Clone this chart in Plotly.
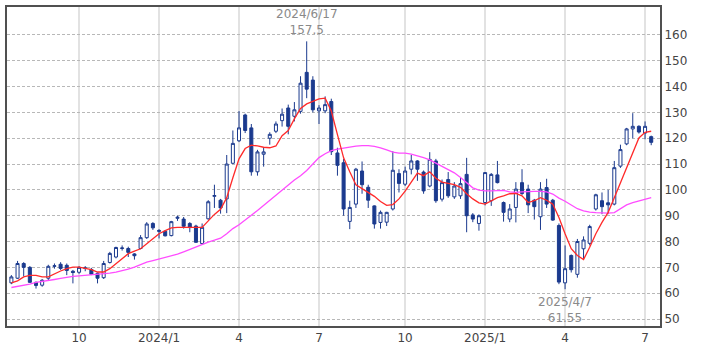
import pandas as pd
import plotly.graph_objects as go

# ---- data (weekly candles, Monday dates) ----
start_week = "2023-07-17"
n_weeks = 105
weeks = pd.date_range(start_week, periods=n_weeks, freq="W-MON")

opens = [64, 65.8, 71.5, 70, 64.2, 63.1, 65.8, 70.4, 71.2, 70.8,
         68.5, 68.1, 69.6, 69.2, 67.7, 66, 71.9, 74, 77.3, 77.3,
         75.2, 77.3, 81.5, 87, 84.3, 84, 82.3, 89, 88.7, 87,
         86, 79.2, 88.8, 97.5, 96, 96.5, 110.3, 119, 129, 124,
         107, 113.8, 120, 122.7, 126.8, 131.7, 128.5, 130.4, 145.5, 142.5,
         130.6, 130.6, 134.2, 114.3, 110.5, 87.8, 94.5, 107.3, 101, 93.8,
         87.4, 87.5, 92.6, 106.3, 102.2, 108, 111.2, 106.9, 101.5, 111.2,
         96.4, 104, 97.3, 97.7, 106, 90.3, 87, 95.1, 95.8, 105.8,
         95.1, 88.7, 93.2, 102.8, 100.3, 96, 89.6, 100.9, 96, 86.2,
         64, 74.6, 67.3, 77.2, 79.3, 92.6, 95.8, 95, 94.5, 109.2,
         117.8, 123.6, 124.6, 122, 120.6]
highs = [67, 72.5, 72, 70.5, 64.5, 65.5, 71, 71.5, 72, 71.5,
         69, 70.5, 70.5, 69.8, 68, 72.5, 76, 78, 78.5, 78,
         75.5, 82.5, 87.5, 87.5, 84.8, 84.3, 88, 90, 89.5, 87.5,
         86.5, 87, 96, 102, 96.5, 113.5, 123, 130.5, 129.5, 125.5,
         115.5, 116.3, 122.3, 126.5, 131.5, 133, 134, 144, 157.5, 144,
         132.8, 136.2, 135.3, 116.3, 112, 95.8, 108.5, 111, 102, 94,
         92, 91.5, 115, 108, 109, 113.5, 111.5, 107.5, 114.6, 112,
         104, 106.9, 103, 105, 112.4, 91, 90.5, 106.7, 106.5, 111.2,
         95.5, 94.5, 103, 108, 102, 96.5, 103, 104.3, 96.5, 87,
         78.5, 75, 81, 82, 86.5, 98.5, 99, 100, 111.2, 117.5,
         124, 129.7, 125, 126.5, 121]
lows = [63.5, 65.5, 66.5, 64, 61.8, 62.5, 65, 69.5, 69, 67,
        63.8, 67.5, 68.5, 67, 63.8, 65.5, 71.5, 73.5, 76.5, 74,
        73, 77, 81, 84.5, 81.2, 82, 82, 88, 85, 83.6,
        79.5, 79, 88.5, 93, 90.8, 91, 110, 118.5, 122, 105.5,
        105.5, 109, 117.5, 122, 124.5, 121.5, 126.5, 129.5, 135.5, 130,
        125.5, 129.7, 113.5, 105.5, 90, 84.8, 93, 98.5, 93, 85,
        85, 86, 92, 99, 101.5, 106, 103.5, 98.5, 101, 95,
        95.5, 96.9, 96.5, 96.5, 83.6, 87.5, 84.2, 94, 93.8, 102.5,
        87.7, 87.5, 87.4, 98, 91, 88.5, 84.5, 93, 88, 63.5,
        61.55, 68, 66, 73, 78.5, 92, 90.6, 90.6, 94, 108.5,
        117.3, 120, 121.8, 119.6, 117.3]
closes = [66.3, 71.5, 70, 64.2, 63, 65, 70.4, 70.6, 69.6, 68.8,
          68, 70, 69.8, 67.3, 65.8, 71.5, 75.4, 77.7, 77.5, 75.8,
          74.5, 81.5, 86.8, 85.3, 84, 82.2, 87.7, 89.4, 85.9, 85.4,
          79.7, 85.5, 95.4, 97.8, 93, 110, 118, 124, 123, 107,
          114.7, 114.7, 121.5, 125.5, 129.3, 124.6, 131, 141.3, 139, 131,
          131.7, 133, 114.8, 109.5, 92.6, 93.2, 108, 102, 96, 86.8,
          91.3, 91.3, 107.6, 102.5, 107.3, 111.2, 108, 99.6, 111.8, 95.8,
          102.8, 97.7, 101.5, 102.4, 90, 88.7, 90, 106.7, 106, 102.8,
          91.3, 92.6, 100.3, 98.6, 94.2, 93.5, 100.3, 94.5, 88.3, 64.3,
          69.5, 69.1, 80, 80.6, 85.8, 98.1, 93.5, 94.2, 108.6, 115.6,
          123.6, 124.6, 122.4, 124.6, 118.4]

ma13 = [64.0, 64.8, 66.3, 66.9, 66.9, 66.3, 66.3, 67.6, 68.6, 69.5,
        70.1, 70.1, 69.7, 69.1, 68.2, 68.2, 69.5, 71.4, 73.3, 75.3,
        76.3, 77.2, 79.1, 81, 83, 84.2, 85.3, 85.5, 85.5, 85.5,
        85.3, 85.5, 88, 90.5, 92.5, 97, 104.7, 112, 116, 117.3,
        117, 116.5, 116.3, 117, 121, 123, 127.5, 131.5, 133.3, 134.3,
        135.2, 135.5, 130.5, 121.4, 112.4, 107, 102, 100.5, 99, 97.5,
        95.5, 94, 94.3, 96.5, 99.5, 103, 106.5, 105.5, 107, 104.5,
        103, 102.5, 102, 101, 98.5, 96.5, 95, 94.5, 95.8, 97,
        97.7, 98.5, 98.6, 97.7, 95.1, 95.8, 97, 96, 94.5, 89.3,
        83, 77.2, 74.6, 73, 77.8, 83, 87.4, 91.3, 97, 102.8,
        109.2, 115, 120.1, 122.3, 122.7]
ma26 = [62.2, 62.6, 63.0, 63.5, 64.2, 64.5, 64.9, 65.3, 65.7, 66.2,
        66.5, 66.7, 66.9, 67.1, 67.3, 67.5, 67.8, 68.2, 68.7, 69.3,
        70.1, 71.2, 72, 72.6, 73.2, 73.8, 74.4, 75.1, 76, 77,
        78, 79, 79.8, 80.5, 81.3, 83, 85, 86.5, 88.5, 90.2,
        92, 94, 96, 98, 100, 102, 103.8, 105.5, 107.5, 110,
        112.5, 114, 115.2, 115.8, 116.2, 116.6, 116.9, 117.1, 117.1, 116.8,
        116.3, 115.5, 114.6, 114.2, 114.2, 113.8, 113.2, 112.5, 111.6, 110.4,
        109.2, 108, 106.6, 104.8, 102.8, 100.8, 99.9, 99.6, 99.6, 99.8,
        99.8, 99.2, 99, 99.2, 99.4, 99.4, 99.4, 99.2, 98.4, 96.8,
        95.6, 94, 92.7, 91.9, 91.4, 91.2, 91, 91, 91.2, 92.8,
        94.2, 95.1, 95.8, 96.4, 97]

tick_dates = ["2023-10-02", "2024-01-01", "2024-04-01", "2024-07-01",
              "2024-10-07", "2025-01-06", "2025-04-07", "2025-07-07"]
tick_labels = ["10", "2024/1", "4", "7", "10", "2025/1", "4", "7"]
year_ticks = ["2024-01-01", "2025-01-06"]
y_ticks = [50, 60, 70, 80, 90, 100, 110, 120, 130, 140, 150, 160]

high_label = ("2024/6/17", 157.5)
low_label = ("2025/4/7", 61.55)

# ---- figure ----
NAVY = "#1b3a8e"
FONT = "DejaVu Sans"

fig = go.Figure()
fig.add_trace(go.Candlestick(
    x=weeks, open=opens, high=highs, low=lows, close=closes,
    increasing=dict(line=dict(color=NAVY, width=1), fillcolor="white"),
    decreasing=dict(line=dict(color=NAVY, width=1), fillcolor=NAVY),
    showlegend=False, hoverinfo="skip",
))
fig.add_trace(go.Scatter(x=weeks, y=ma26, mode="lines",
                         line=dict(color="#ff4cff", width=1.3), showlegend=False))
fig.add_trace(go.Scatter(x=weeks, y=ma13, mode="lines",
                         line=dict(color="#ff2a2a", width=1.3), showlegend=False))

for d in year_ticks:
    fig.add_shape(type="line", xref="x", yref="paper", x0=d, x1=d, y0=0, y1=1,
                  line=dict(color="#b4b4b4", width=1.5), layer="below")

fig.add_annotation(x=high_label[0].replace("/", "-"), y=high_label[1], xref="x", yref="y",
                   text=f"{high_label[0]}<br>{high_label[1]}", showarrow=False,
                   yanchor="bottom", yshift=2, font=dict(family=FONT, size=12, color="#8a8a8a"))
fig.add_annotation(x=low_label[0].replace("/", "-"), y=low_label[1], xref="x", yref="y",
                   text=f"{low_label[0]}<br>{low_label[1]}", showarrow=False,
                   yanchor="top", yshift=-4, font=dict(family=FONT, size=12, color="#8a8a8a"))

fig.update_layout(
    width=709, height=354,
    margin=dict(l=5, r=49, t=5, b=28),
    paper_bgcolor="white", plot_bgcolor="white",
    font=dict(family=FONT, size=12, color="#444"),
    boxgap=0.3,
    xaxis=dict(
        type="date", range=["2023-07-12", "2025-07-24"],
        tickvals=tick_dates, ticktext=tick_labels, ticks="",
        showgrid=True, gridcolor="#e2e2e2", gridwidth=1.5,
        showline=True, mirror=True, linecolor="#505050", linewidth=2,
        rangeslider=dict(visible=False), zeroline=False,
        tickfont=dict(family=FONT, size=12, color="#444"),
    ),
    yaxis=dict(
        side="right", range=[47.3, 170.8], tickvals=y_ticks, ticks="",
        showgrid=True, gridcolor="#b8b8b8", gridwidth=1, griddash="3px,2px",
        showline=True, mirror=True, linecolor="#505050", linewidth=2,
        zeroline=False, tickfont=dict(family=FONT, size=12, color="#444"),
    ),
)

fig.write_html("out.html")
